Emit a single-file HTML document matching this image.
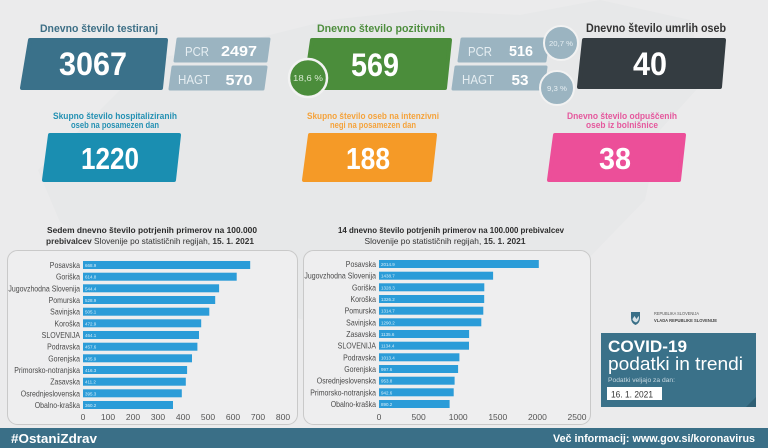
<!DOCTYPE html>
<html><head><meta charset="utf-8"><style>
html,body{margin:0;padding:0;background:#ebebec;}
svg{display:block;font-family:"Liberation Sans",sans-serif;}
</style></head><body>
<svg width="768" height="448" viewBox="0 0 768 448" xmlns="http://www.w3.org/2000/svg">
<rect width="768" height="448" fill="#ebebec"/>
<!-- faint map -->
<polygon points="90,120 150,60 250,40 330,20 420,10 520,15 600,0 690,20 705,80 660,130 645,200 585,262 500,300 420,300 330,330 250,300 200,250 120,262 60,222 38,170" fill="#dfe0e1" opacity="0.3"/>

<!-- TOP LEFT -->
<text x="99" y="32" text-anchor="middle" font-size="11" font-weight="bold" fill="#3d6f86" textLength="118" lengthAdjust="spacingAndGlyphs">Dnevno število testiranj</text>
<polygon points="30,40 166,40 161,88 22,88" fill="#3a718a" stroke="#3a718a" stroke-width="4" stroke-linejoin="round"/>
<text x="93" y="75" text-anchor="middle" font-size="32" font-weight="bold" fill="#fff" textLength="68" lengthAdjust="spacingAndGlyphs">3067</text>
<polygon points="178,39 269,39 266,61 175,61" fill="#9bb4c1" stroke="#9bb4c1" stroke-width="3" stroke-linejoin="round"/>
<text x="185" y="56" font-size="13" fill="#e6eef2" textLength="24" lengthAdjust="spacingAndGlyphs">PCR</text>
<text x="239" y="56" text-anchor="middle" font-size="15" font-weight="bold" fill="#fff" textLength="36" lengthAdjust="spacingAndGlyphs">2497</text>
<polygon points="173,67 266,67 263,89 170,89" fill="#9bb4c1" stroke="#9bb4c1" stroke-width="3" stroke-linejoin="round"/>
<text x="178" y="84" font-size="13" fill="#e6eef2" textLength="32" lengthAdjust="spacingAndGlyphs">HAGT</text>
<text x="239" y="85" text-anchor="middle" font-size="15" font-weight="bold" fill="#fff" textLength="27" lengthAdjust="spacingAndGlyphs">570</text>

<!-- TOP MIDDLE -->
<text x="381" y="32" text-anchor="middle" font-size="11" font-weight="bold" fill="#4e8e3e" textLength="128" lengthAdjust="spacingAndGlyphs">Dnevno število pozitivnih</text>
<polygon points="312,40 450,40 445,88 305,88" fill="#4b8d3b" stroke="#4b8d3b" stroke-width="4" stroke-linejoin="round"/>
<text x="375" y="76" text-anchor="middle" font-size="32" font-weight="bold" fill="#fff" textLength="48" lengthAdjust="spacingAndGlyphs">569</text>
<circle cx="308" cy="78" r="19" fill="#4b8d3b" stroke="#f2f2f2" stroke-width="2.5"/>
<text x="308" y="81" text-anchor="middle" font-size="8.5" fill="#d8ead2" textLength="30" lengthAdjust="spacingAndGlyphs">18,6 %</text>
<polygon points="462,39 548,39 545,61 459,61" fill="#9bb4c1" stroke="#9bb4c1" stroke-width="3" stroke-linejoin="round"/>
<text x="468" y="56" font-size="13" fill="#e6eef2" textLength="24" lengthAdjust="spacingAndGlyphs">PCR</text>
<text x="521" y="56" text-anchor="middle" font-size="15" font-weight="bold" fill="#fff" textLength="24" lengthAdjust="spacingAndGlyphs">516</text>
<polygon points="456,67 546,67 543,89 453,89" fill="#9bb4c1" stroke="#9bb4c1" stroke-width="3" stroke-linejoin="round"/>
<text x="462" y="84" font-size="13" fill="#e6eef2" textLength="32" lengthAdjust="spacingAndGlyphs">HAGT</text>
<text x="520" y="85" text-anchor="middle" font-size="15" font-weight="bold" fill="#fff" textLength="17" lengthAdjust="spacingAndGlyphs">53</text>
<circle cx="561" cy="43" r="17" fill="#9bb4c1" stroke="#f2f2f2" stroke-width="2"/>
<text x="561" y="46" text-anchor="middle" font-size="7.5" fill="#e6eef2" textLength="24" lengthAdjust="spacingAndGlyphs">20,7 %</text>
<circle cx="557" cy="88" r="17" fill="#9bb4c1" stroke="#f2f2f2" stroke-width="2"/>
<text x="557" y="91" text-anchor="middle" font-size="7.5" fill="#e6eef2" textLength="20" lengthAdjust="spacingAndGlyphs">9,3 %</text>

<!-- TOP RIGHT -->
<text x="656" y="32" text-anchor="middle" font-size="11.5" font-weight="bold" fill="#333" textLength="140" lengthAdjust="spacingAndGlyphs">Dnevno število umrlih oseb</text>
<polygon points="584,40 724,40 720,87 579,87" fill="#343c41" stroke="#343c41" stroke-width="4" stroke-linejoin="round"/>
<text x="650" y="75" text-anchor="middle" font-size="32" font-weight="bold" fill="#fff" textLength="34" lengthAdjust="spacingAndGlyphs">40</text>

<!-- MIDDLE ROW -->
<text x="115" y="119" text-anchor="middle" font-size="9.5" font-weight="bold" fill="#2591b3" textLength="124" lengthAdjust="spacingAndGlyphs">Skupno število hospitaliziranih</text>
<text x="115" y="128" text-anchor="middle" font-size="9.5" font-weight="bold" fill="#2591b3" textLength="88" lengthAdjust="spacingAndGlyphs">oseb na posamezen dan</text>
<polygon points="50,135 179,135 174,180 44,180" fill="#1a8eb1" stroke="#1a8eb1" stroke-width="4" stroke-linejoin="round"/>
<text x="110" y="169" text-anchor="middle" font-size="31" font-weight="bold" fill="#fff" textLength="58" lengthAdjust="spacingAndGlyphs">1220</text>

<text x="373" y="119" text-anchor="middle" font-size="9.5" fill="#f5a33c" font-weight="bold" textLength="132" lengthAdjust="spacingAndGlyphs">Skupno število oseb na intenzivni</text>
<text x="373" y="128" text-anchor="middle" font-size="9.5" fill="#f5a33c" font-weight="bold" textLength="86" lengthAdjust="spacingAndGlyphs">negi na posamezen dan</text>
<polygon points="310,135 435,135 430,180 304,180" fill="#f59a27" stroke="#f59a27" stroke-width="4" stroke-linejoin="round"/>
<text x="368" y="169" text-anchor="middle" font-size="31" font-weight="bold" fill="#fff" textLength="44" lengthAdjust="spacingAndGlyphs">188</text>

<text x="622" y="119" text-anchor="middle" font-size="9.5" fill="#e5589d" font-weight="bold" textLength="110" lengthAdjust="spacingAndGlyphs">Dnevno število odpuščenih</text>
<text x="622" y="128" text-anchor="middle" font-size="9.5" fill="#e5589d" font-weight="bold" textLength="72" lengthAdjust="spacingAndGlyphs">oseb iz bolnišnice</text>
<polygon points="555,135 684,135 679,180 549,180" fill="#ec4f99" stroke="#ec4f99" stroke-width="4" stroke-linejoin="round"/>
<text x="615" y="169" text-anchor="middle" font-size="31" font-weight="bold" fill="#fff" textLength="32" lengthAdjust="spacingAndGlyphs">38</text>

<!-- LEFT CHART -->
<text x="152" y="233" text-anchor="middle" font-size="8.5" font-weight="bold" fill="#2b2b2b" textLength="210" lengthAdjust="spacingAndGlyphs">Sedem dnevno število potrjenih primerov na 100.000</text>
<text x="150" y="244" text-anchor="middle" font-size="8.5" fill="#333" textLength="208" lengthAdjust="spacingAndGlyphs"><tspan font-weight="bold">prebivalcev</tspan> Slovenije po statističnih regijah, <tspan font-weight="bold">15. 1. 2021</tspan></text>
<rect x="7.5" y="250.5" width="290" height="174" rx="10" fill="#eeeeef" stroke="#c9c9c9" stroke-width="1"/>
<g fill="#2b9cd8">
<rect x="83" y="261" width="167.2" height="8"/>
<rect x="83" y="272.7" width="153.7" height="8"/>
<rect x="83" y="284.3" width="136.1" height="8"/>
<rect x="83" y="296" width="132.2" height="8"/>
<rect x="83" y="307.7" width="126.3" height="8"/>
<rect x="83" y="319.3" width="118.2" height="8"/>
<rect x="83" y="331" width="116" height="8"/>
<rect x="83" y="342.7" width="114.4" height="8"/>
<rect x="83" y="354.3" width="109" height="8"/>
<rect x="83" y="366" width="104.1" height="8"/>
<rect x="83" y="377.7" width="102.8" height="8"/>
<rect x="83" y="389.3" width="98.8" height="8"/>
<rect x="83" y="401" width="90" height="8"/>
</g>
<g font-size="4.5" fill="#d8eef9">
<text x="85" y="267">668.9</text><text x="85" y="278.7">614.8</text><text x="85" y="290.3">544.4</text><text x="85" y="302">528.9</text><text x="85" y="313.7">505.1</text><text x="85" y="325.3">472.9</text><text x="85" y="337">464.1</text><text x="85" y="348.7">457.6</text><text x="85" y="360.3">435.9</text><text x="85" y="372">416.3</text><text x="85" y="383.7">411.2</text><text x="85" y="395.3">395.3</text><text x="85" y="407">360.2</text>
</g>
<g transform="translate(80,0) scale(0.82,1)" font-size="8.5" fill="#4a4a4a" text-anchor="end">
<text x="0" y="268">Posavska</text><text x="0" y="279.7">Goriška</text><text x="0" y="291.3">Jugovzhodna Slovenija</text><text x="0" y="303">Pomurska</text><text x="0" y="314.7">Savinjska</text><text x="0" y="326.3">Koroška</text><text x="0" y="338">SLOVENIJA</text><text x="0" y="349.7">Podravska</text><text x="0" y="361.3">Gorenjska</text><text x="0" y="373">Primorsko-notranjska</text><text x="0" y="384.7">Zasavska</text><text x="0" y="396.3">Osrednjeslovenska</text><text x="0" y="408">Obalno-kraška</text>
</g>
<g font-size="8.5" fill="#555" text-anchor="middle">
<text x="83" y="420">0</text><text x="108" y="420">100</text><text x="133" y="420">200</text><text x="158" y="420">300</text><text x="183" y="420">400</text><text x="208" y="420">500</text><text x="233" y="420">600</text><text x="258" y="420">700</text><text x="283" y="420">800</text>
</g>

<!-- RIGHT CHART -->
<text x="451" y="233" text-anchor="middle" font-size="8.5" font-weight="bold" fill="#2b2b2b" textLength="226" lengthAdjust="spacingAndGlyphs">14 dnevno število potrjenih primerov na 100.000 prebivalcev</text>
<text x="445" y="244" text-anchor="middle" font-size="8.5" fill="#333" textLength="161" lengthAdjust="spacingAndGlyphs">Slovenije po statističnih regijah, <tspan font-weight="bold">15. 1. 2021</tspan></text>
<rect x="303.5" y="250.5" width="287" height="174" rx="10" fill="#eeeeef" stroke="#c9c9c9" stroke-width="1"/>
<g fill="#2b9cd8">
<rect x="379" y="260" width="159.8" height="8"/>
<rect x="379" y="271.7" width="114.1" height="8"/>
<rect x="379" y="283.3" width="105.3" height="8"/>
<rect x="379" y="295" width="105.2" height="8"/>
<rect x="379" y="306.7" width="104.3" height="8"/>
<rect x="379" y="318.3" width="102.3" height="8"/>
<rect x="379" y="330" width="90.1" height="8"/>
<rect x="379" y="341.7" width="90" height="8"/>
<rect x="379" y="353.3" width="80.4" height="8"/>
<rect x="379" y="365" width="79.1" height="8"/>
<rect x="379" y="376.7" width="75.6" height="8"/>
<rect x="379" y="388.3" width="74.7" height="8"/>
<rect x="379" y="400" width="70.6" height="8"/>
</g>
<g font-size="4.5" fill="#d8eef9">
<text x="381" y="266">2014.9</text><text x="381" y="277.7">1438.7</text><text x="381" y="289.3">1328.3</text><text x="381" y="301">1326.2</text><text x="381" y="312.7">1314.7</text><text x="381" y="324.3">1290.2</text><text x="381" y="336">1135.6</text><text x="381" y="347.7">1134.4</text><text x="381" y="359.3">1013.4</text><text x="381" y="371">997.6</text><text x="381" y="382.7">953.8</text><text x="381" y="394.3">942.6</text><text x="381" y="406">890.2</text>
</g>
<g transform="translate(376,0) scale(0.82,1)" font-size="8.5" fill="#4a4a4a" text-anchor="end">
<text x="0" y="267">Posavska</text><text x="0" y="278.7">Jugovzhodna Slovenija</text><text x="0" y="290.3">Goriška</text><text x="0" y="302">Koroška</text><text x="0" y="313.7">Pomurska</text><text x="0" y="325.3">Savinjska</text><text x="0" y="337">Zasavska</text><text x="0" y="348.7">SLOVENIJA</text><text x="0" y="360.3">Podravska</text><text x="0" y="372">Gorenjska</text><text x="0" y="383.7">Osrednjeslovenska</text><text x="0" y="395.3">Primorsko-notranjska</text><text x="0" y="407">Obalno-kraška</text>
</g>
<g font-size="8.5" fill="#555" text-anchor="middle">
<text x="379" y="420">0</text><text x="418.6" y="420">500</text><text x="458.2" y="420">1000</text><text x="497.8" y="420">1500</text><text x="537.4" y="420">2000</text><text x="577" y="420">2500</text>
</g>

<!-- LOGO BLOCK -->
<path d="M631,312 h9 v6 q0,5 -4.5,7 q-4.5,-2 -4.5,-7 z" fill="#3a6f87"/>
<path d="M632.5,319 l2,-3 l2,3 l2,-3 l0.5,1 q0,4 -3,5.5 q-3.5,-1.5 -3.5,-3.5z" fill="#fff" opacity="0.8"/>
<text x="654" y="315" font-size="4.5" fill="#555" textLength="45" lengthAdjust="spacingAndGlyphs">REPUBLIKA SLOVENIJA</text>
<text x="654" y="322" font-size="4.5" font-weight="bold" fill="#444" textLength="63" lengthAdjust="spacingAndGlyphs">VLADA REPUBLIKE SLOVENIJE</text>
<rect x="601" y="333" width="155" height="74" fill="#3a7189"/>
<polygon points="746,407 756,397 756,407" fill="#2f5f74"/>
<text x="608" y="352" font-size="17" font-weight="bold" fill="#fff" textLength="79" lengthAdjust="spacingAndGlyphs">COVID-19</text>
<text x="608" y="370" font-size="18" fill="#fff" textLength="135" lengthAdjust="spacingAndGlyphs">podatki in trendi</text>
<text x="608" y="382" font-size="6.5" fill="#c8d8e0" textLength="67" lengthAdjust="spacingAndGlyphs">Podatki veljajo za dan:</text>
<rect x="607" y="387" width="55" height="13" fill="#fff"/>
<text x="611" y="397.5" font-size="9" fill="#333" textLength="42" lengthAdjust="spacingAndGlyphs">16. 1. 2021</text>

<!-- BOTTOM BAR -->
<rect x="0" y="428" width="768" height="20" fill="#3a6f87"/>
<text x="11" y="443" font-size="13" font-weight="bold" fill="#fff" textLength="86" lengthAdjust="spacingAndGlyphs">#OstaniZdrav</text>
<text x="755" y="442" text-anchor="end" font-size="11" font-weight="bold" fill="#fff" textLength="202" lengthAdjust="spacingAndGlyphs">Več informacij: www.gov.si/koronavirus</text>
</svg>
</body></html>
